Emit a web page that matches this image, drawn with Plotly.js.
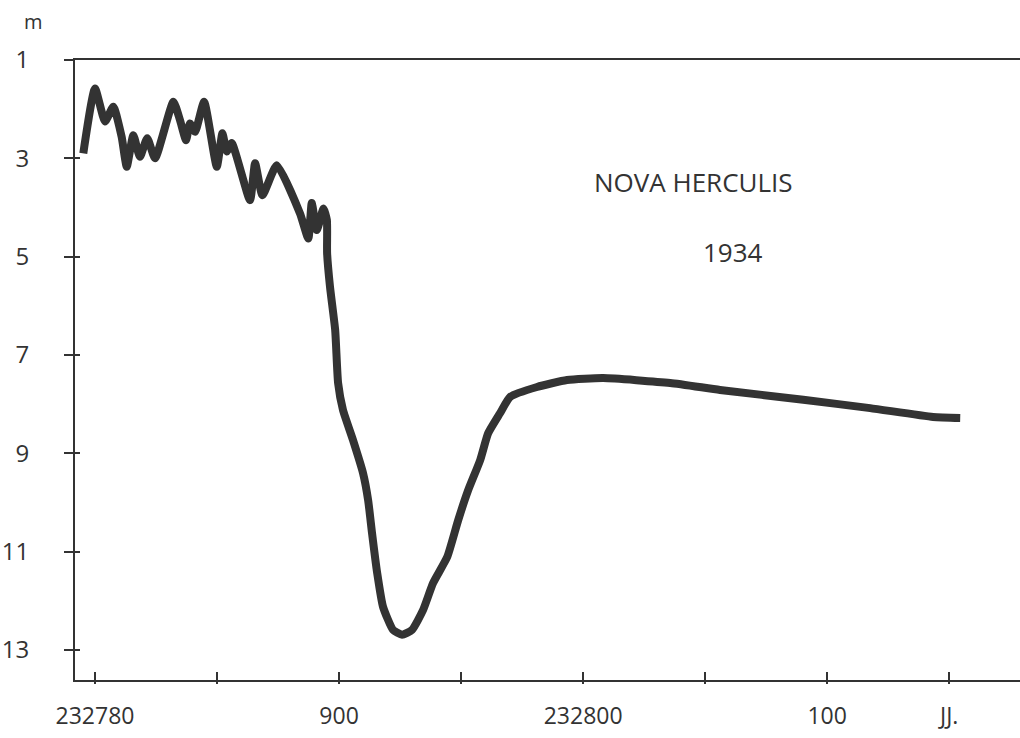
<!DOCTYPE html>
<html>
<head>
<meta charset="utf-8">
<script src="https://cdn.plot.ly/plotly-3.0.1.min.js"></script>
<style>html,body{margin:0;padding:0;background:#fff;}#chart{width:1020px;height:738px;}</style>
</head>
<body>
<div id="chart"></div>
<script>
// Julian day (offset) and magnitude
const julianDay = [7795.2, 7800.0, 7804.1, 7807.5, 7810.9, 7813.0, 7815.7, 7818.4, 7821.4, 7824.6,
  7832.1, 7834.8, 7837.3, 7838.9, 7841.0, 7844.7, 7849.9, 7852.2, 7854.0, 7856.0,
  7863.5, 7865.6, 7868.6, 7874.5, 7884.0, 7887.4, 7888.8, 7890.9, 7893.6, 7895.0,
  7895.1, 7896.3, 7898.4, 7899.6, 7901.6, 7905.7, 7909.8, 7911.9, 7913.5, 7915.6,
  7918.0, 7922.1, 7925.8, 7929.9, 7934.4, 7938.5, 7944.3, 7948.8, 7952.9, 7957.8,
  7961.1, 7966.0, 7970.1, 7981.1, 7993.4, 8008.2, 8035.7, 8056.1, 8090.2, 8117.6,
  8143.4, 8154.5];
const magnitude = [2.90, 1.58, 2.25, 1.95, 2.56, 3.17, 2.53, 2.97, 2.59, 3.00,
  1.85, 2.22, 2.63, 2.29, 2.46, 1.85, 3.17, 2.49, 2.86, 2.69,
  3.85, 3.10, 3.75, 3.14, 4.12, 4.63, 3.91, 4.46, 4.02, 4.25,
  4.93, 5.62, 6.49, 7.57, 8.12, 8.73, 9.40, 9.95, 10.62, 11.43,
  12.12, 12.59, 12.69, 12.59, 12.19, 11.64, 11.11, 10.36, 9.75, 9.14,
  8.59, 8.18, 7.85, 7.65, 7.51, 7.47, 7.57, 7.71, 7.91, 8.08,
  8.26, 8.28];

const xTickVals = [7800, 7850, 7900, 7950, 8000, 8050, 8100, 8150];
const xTickText = ["232780", "", "900", "", "232800", "", "100", "JJ."];
const yTickVals = [1, 3, 5, 7, 9, 11, 13];
const yTickText = ["1", "3", "5", "7", "9", "11", "13"];

const titleLine1 = "NOVA HERCULIS";
const titleLine2 = "1934";
const yUnit = "m";

const ink = "#333333";
const fontFam = "'Open Sans', 'DejaVu Sans', sans-serif";
const xRange = [7791.8, 8179];
const yRange = [13.61, 1];

const traces = [
  {x: julianDay, y: magnitude, type: "scatter", mode: "lines",
   line: {color: ink, width: 8, shape: "spline", smoothing: 0.5},
   hoverinfo: "skip", showlegend: false},
  {x: julianDay, y: magnitude, type: "scatter", mode: "lines",
   xaxis: "x2", yaxis: "y2",
   line: {color: "rgba(0,0,0,0)", width: 0},
   hoverinfo: "skip", showlegend: false}
];

const layout = {
  width: 1020, height: 738,
  margin: {l: 75, r: 0, t: 60, b: 58},
  paper_bgcolor: "#fff", plot_bgcolor: "#fff",
  font: {family: fontFam, color: ink, size: 23},
  xaxis: {range: xRange, showgrid: false, zeroline: false,
    showline: true, linecolor: ink, linewidth: 2, mirror: true,
    tickmode: "array", tickvals: xTickVals, ticktext: xTickText,
    ticks: "inside", ticklen: 8, tickwidth: 2, tickcolor: ink,
    tickfont: {size: 23, color: ink}, ticklabelstandoff: 14},
  xaxis2: {range: xRange, overlaying: "x", anchor: "y2", side: "bottom",
    showgrid: false, zeroline: false, showline: false,
    tickmode: "array", tickvals: xTickVals, showticklabels: false,
    ticks: "outside", ticklen: 3, tickwidth: 2, tickcolor: ink},
  yaxis: {range: yRange, showgrid: false, zeroline: false,
    showline: true, linecolor: ink, linewidth: 2,
    tickmode: "array", tickvals: yTickVals, ticktext: yTickText,
    ticks: "outside", ticklen: 9, tickwidth: 2, tickcolor: ink,
    tickfont: {size: 24, color: ink}, ticklabelstandoff: 30},
  yaxis2: {range: yRange, overlaying: "y", anchor: "x2", side: "left",
    showgrid: false, zeroline: false, showline: false,
    tickmode: "array", tickvals: yTickVals, showticklabels: false,
    ticks: "inside", ticklen: 5, tickwidth: 2, tickcolor: ink},
  annotations: [
    {text: titleLine1, xref: "paper", yref: "paper", x: 0.654, y: 0.803,
     xanchor: "center", yanchor: "middle", showarrow: false,
     font: {size: 26, color: ink, family: fontFam}},
    {text: titleLine2, xref: "paper", yref: "paper", x: 0.696, y: 0.690,
     xanchor: "center", yanchor: "middle", showarrow: false,
     font: {size: 26, color: ink, family: fontFam}},
    {text: yUnit, xref: "paper", yref: "paper", x: -0.044, y: 1.062,
     xanchor: "center", yanchor: "middle", showarrow: false,
     font: {size: 20, color: ink, family: fontFam}}
  ]
};

Plotly.newPlot("chart", traces, layout, {displayModeBar: false, staticPlot: true});
</script>
</body>
</html>
